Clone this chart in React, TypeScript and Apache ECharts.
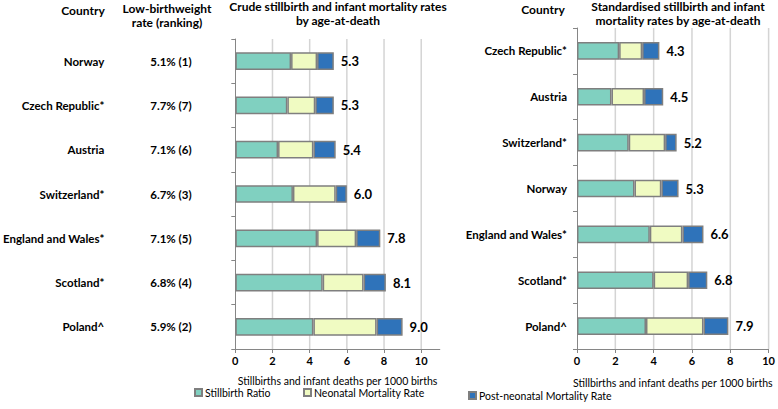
import React, { useEffect, useRef } from "react";
import * as echarts from "echarts";

const seriesNames = ["Stillbirth Ratio", "Neonatal Mortality Rate", "Post-neonatal Mortality Rate"];

const crudeCountries = ["Norway", "Czech Republic*", "Austria", "Switzerland*", "England and Wales*", "Scotland*", "Poland^"];
const lbwRates = ["5.1% (1)", "7.7% (7)", "7.1% (6)", "6.7% (3)", "7.1% (5)", "6.8% (4)", "5.9% (2)"];
const crudeStillbirth = [3.0, 2.8, 2.3, 3.1, 4.4, 4.7, 4.2];
const crudeNeonatal = [1.4, 1.5, 1.9, 2.3, 2.1, 2.2, 3.4];
const crudePostNeonatal = [0.9, 1.0, 1.2, 0.6, 1.3, 1.2, 1.4];
const crudeTotals = ["5.3", "5.3", "5.4", "6.0", "7.8", "8.1", "9.0"];

const stdCountries = ["Czech Republic*", "Austria", "Switzerland*", "Norway", "England and Wales*", "Scotland*", "Poland^"];
const stdStillbirth = [2.2, 1.8, 2.7, 3.0, 3.8, 4.0, 3.6];
const stdNeonatal = [1.2, 1.7, 1.9, 1.4, 1.7, 1.8, 3.0];
const stdPostNeonatal = [0.9, 1.0, 0.6, 0.9, 1.1, 1.0, 1.3];
const stdTotals = ["4.3", "4.5", "5.2", "5.3", "6.6", "6.8", "7.9"];

const xTickValues = [0, 2, 4, 6, 8, 10];
const xAxisName = "Stillbirths and infant deaths per 1000 births";

const headers = [
  { text: "Country", x: 83, y: 10 },
  { text: "Low-birthweight\nrate (ranking)", x: 167, y: 15 },
  { text: "Crude stillbirth and infant mortality rates\nby age-at-death", x: 338, y: 13 },
  { text: "Country", x: 543, y: 9 },
  { text: "Standardised stillbirth and infant\nmortality rates by age-at-death", x: 678, y: 13 },
];

const colors = ["#80d0c0", "#f0fbc2", "#2f73ba"];
const FONT = "Lato";
const GRIDS = [
  { left: 233, top: 39, width: 206.8, height: 310 },
  { left: 577, top: 28, width: 195, height: 321 },
];

export default function App() {
  const ref = useRef<HTMLDivElement>(null);
  useEffect(() => {
    document.body.style.margin = "0";
    const chart = echarts.init(ref.current!, null, { renderer: "svg" });
    const mkX = (grid: number, max: number, nameGap: number) => ({
      type: "value",
      gridIndex: grid,
      min: 0,
      max,
      interval: 2,
      name: xAxisName,
      nameLocation: "middle",
      nameGap,
      nameTextStyle: { fontFamily: FONT, fontSize: 10.5, color: "#000" },
      axisLine: { show: true, lineStyle: { color: "#868686", width: 1 } },
      axisTick: { show: true, length: 4, lineStyle: { color: "#868686", width: 1 }, customValues: xTickValues },
      axisLabel: {
        fontFamily: FONT,
        fontSize: 11,
        fontWeight: "bold",
        color: "#000",
        margin: 6,
        formatter: (v: number) => (xTickValues.indexOf(v) >= 0 ? String(v) : ""),
      },
      splitLine: { show: false },
    });
    const mkSeries = (grid: number, data: number[][], totals: string[], stack: string, barW: string) =>
      data.map((d, i) => ({
        type: "bar",
        name: seriesNames[i],
        stack,
        z: 2,
        xAxisIndex: grid,
        yAxisIndex: grid === 0 ? 0 : 2,
        data: d,
        barWidth: barW,
        itemStyle: { color: colors[i], borderColor: "#7f7f7f", borderWidth: 1.5 },
        label:
          i === 2
            ? {
                show: true,
                position: "right",
                distance: 7,
                formatter: (p: any) => totals[p.dataIndex],
                fontFamily: FONT,
                fontSize: 13,
                fontWeight: "bold",
                color: "#000",
              }
            : { show: false },
      }));
    const labelFont = { fontFamily: FONT, fontSize: 11.5, fontWeight: "bold", color: "#000" };
    const headerGraphics = headers.map((h) => ({
      type: "text",
      x: h.x,
      y: h.y,
      style: {
        text: h.text,
        fontFamily: FONT,
        fontSize: 12,
        fontWeight: "bold",
        fill: "#000",
        align: "center",
        verticalAlign: "middle",
        lineHeight: 14,
      },
    }));
    const option = {
      animation: false,
      grid: GRIDS,
      legend: seriesNames.map((n, i) => ({
        data: [n],
        left: [194, 303, 468][i],
        top: [387, 387, 390][i],
        itemWidth: 7,
        itemHeight: 7,
        itemGap: 0,
        padding: 0,
        icon: "rect",
        textStyle: { fontFamily: FONT, fontSize: 10.5, color: "#000", padding: [0, 0, 0, -2] },
        selectedMode: false,
      })),
      xAxis: [mkX(0, 11, 26), mkX(1, 10, 28)],
      yAxis: [
        {
          type: "category",
          gridIndex: 0,
          data: crudeCountries,
          inverse: true,
          axisLine: { show: true, lineStyle: { color: "#868686", width: 1 } },
          axisTick: { show: true, length: 4, lineStyle: { color: "#868686", width: 1 } },
          axisLabel: { ...labelFont, margin: 131 },
          splitLine: { show: false },
        },
        {
          type: "category",
          gridIndex: 0,
          data: lbwRates,
          inverse: true,
          position: "left",
          axisLine: { show: false },
          axisTick: { show: false },
          axisLabel: { ...labelFont, margin: 85, align: "left" },
          splitLine: { show: false },
        },
        {
          type: "category",
          gridIndex: 1,
          data: stdCountries,
          inverse: true,
          axisLine: { show: true, lineStyle: { color: "#868686", width: 1 } },
          axisTick: { show: true, length: 4, lineStyle: { color: "#868686", width: 1 } },
          axisLabel: { ...labelFont, margin: 10 },
          splitLine: { show: false },
        },
      ],
      graphic: headerGraphics,
      series: [
        ...mkSeries(0, [crudeStillbirth, crudeNeonatal, crudePostNeonatal], crudeTotals, "crude", "40%"),
        ...mkSeries(1, [stdStillbirth, stdNeonatal, stdPostNeonatal], stdTotals, "std", "38.5%"),
      ],
    };
    chart.setOption(option as any);

    // grid lines placed through the library's own x scales
    const lines: any[] = [];
    GRIDS.forEach((g, gi) => {
      xTickValues
        .filter((v) => v > 0)
        .forEach((v) => {
          const px = chart.convertToPixel({ xAxisIndex: gi } as any, v) as unknown as number;
          if (typeof px === "number" && isFinite(px)) {
            lines.push({
              type: "line",
              z: 0,
              silent: true,
              shape: { x1: px, y1: g.top, x2: px, y2: g.top + g.height },
              style: { stroke: "#d4d4d4", lineWidth: 1.5 },
            });
          }
        });
    });
    chart.setOption({ graphic: [...headerGraphics, ...lines] } as any, { replaceMerge: ["graphic"] } as any);
    return () => chart.dispose();
  }, []);
  return <div ref={ref} style={{ width: 778, height: 409 }} />;
}
